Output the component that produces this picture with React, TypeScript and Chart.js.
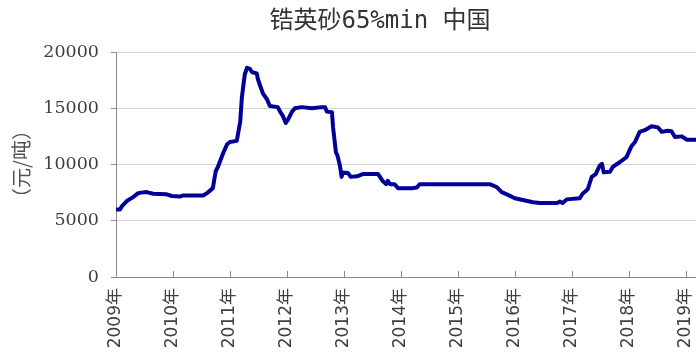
import React, { useEffect, useRef } from "react";
import { Chart, registerables } from "chart.js";

Chart.register(...registerables);

const titleText = "锆英砂65%min 中国";
const yAxisTitle = "（元/吨）";
const yearTicks = [2009, 2010, 2011, 2012, 2013, 2014, 2015, 2016, 2017, 2018, 2019];
const yearSuffix = "年";

// decimal year of each observation
const dates = [
  2009.0, 2009.07, 2009.105, 2009.19, 2009.3, 2009.39, 2009.44, 2009.54, 2009.65, 2009.89,
  2009.98, 2010.12, 2010.18, 2010.53, 2010.61, 2010.7, 2010.75, 2010.79, 2010.88, 2010.95,
  2011.0, 2011.12, 2011.18, 2011.21, 2011.26, 2011.3, 2011.35, 2011.39, 2011.47, 2011.49,
  2011.53, 2011.58, 2011.65, 2011.7, 2011.84, 2011.88, 2011.93, 2011.98, 2012.02, 2012.09,
  2012.14, 2012.26, 2012.44, 2012.61, 2012.67, 2012.7, 2012.79, 2012.81, 2012.86, 2012.89,
  2012.93, 2012.96, 2012.98, 2013.07, 2013.12, 2013.23, 2013.33, 2013.6, 2013.68, 2013.74,
  2013.77, 2013.81, 2013.89, 2013.95, 2014.21, 2014.28, 2014.33, 2015.56, 2015.68, 2015.77,
  2015.88, 2016.0, 2016.14, 2016.32, 2016.44, 2016.74, 2016.79, 2016.84, 2016.91, 2017.14,
  2017.19, 2017.28, 2017.35, 2017.42, 2017.49, 2017.53, 2017.56, 2017.67, 2017.72, 2017.84,
  2017.96, 2018.05, 2018.11, 2018.19, 2018.28, 2018.4, 2018.51, 2018.58, 2018.68, 2018.75,
  2018.81, 2018.93, 2019.02, 2019.18,
];

// 元/吨
const prices = [
  6000, 6000, 6300, 6750, 7100, 7450, 7500, 7550, 7400, 7350,
  7200, 7150, 7250, 7250, 7500, 7900, 9400, 9800, 11000, 11800,
  12000, 12100, 13800, 16000, 18000, 18600, 18500, 18200, 18100, 17600,
  17000, 16300, 15800, 15200, 15100, 14700, 14300, 13700, 14000, 14700,
  15000, 15100, 15000, 15100, 15100, 14700, 14650, 13300, 11100, 10750,
  9900, 8900, 9300, 9250, 8900, 8950, 9150, 9150, 8550, 8250,
  8550, 8250, 8250, 7900, 7900, 7950, 8250, 8250, 8000, 7550,
  7300, 7000, 6850, 6650, 6580, 6580, 6700, 6580, 6900, 7000,
  7400, 7800, 8900, 9150, 9900, 10050, 9300, 9350, 9780, 10200,
  10650, 11650, 12000, 12900, 13050, 13400, 13300, 12900, 13000, 12950,
  12450, 12500, 12200, 12200,
];

const yMin = 0;
const yMax = 20000;
const yStep = 5000;
const xMin = 2009;
const xMax = 2019.18;

export default function App() {
  const ref = useRef<HTMLCanvasElement>(null);

  useEffect(() => {
    document.body.style.margin = "0";
    const canvas = ref.current;
    if (!canvas) return;

    const decorPlugin = {
      id: "decor",
      afterDraw(chart: any) {
        const ctx = chart.ctx;
        const area = chart.chartArea;
        const xs = chart.scales.x;
        ctx.save();
        // inward x tick marks
        ctx.strokeStyle = "#8a8a8a";
        ctx.lineWidth = 1;
        yearTicks.forEach((yr) => {
          const px = Math.round(xs.getPixelForValue(yr)) + 0.5;
          ctx.beginPath();
          ctx.moveTo(px, area.bottom);
          ctx.lineTo(px, area.bottom - 6);
          ctx.stroke();
        });
        // title
        ctx.fillStyle = "#333333";
        ctx.font = "24px 'DejaVu Sans Mono', 'Noto Sans CJK SC'";
        ctx.textAlign = "center";
        ctx.textBaseline = "middle";
        ctx.fillText(titleText, 380, 22);
        // y axis title
        ctx.translate(21, 164);
        ctx.rotate(-Math.PI / 2);
        ctx.font = "20px 'Noto Sans CJK SC'";
        ctx.fillStyle = "#505050";
        ctx.fillText(yAxisTitle, 0, 0);
        ctx.restore();
      },
    };

    const chart = new Chart(canvas, {
      type: "line",
      data: {
        datasets: [
          {
            data: dates.map((d, i) => ({ x: d, y: prices[i] })),
            borderColor: "#000099",
            borderWidth: 4,
            pointRadius: 0,
            tension: 0,
            borderJoinStyle: "round",
            borderCapStyle: "round",
            fill: false,
          },
        ],
      },
      options: {
        animation: false,
        responsive: false,
        devicePixelRatio: 1,
        layout: { padding: { top: 52, left: 0, right: 0, bottom: 0 } },
        plugins: {
          legend: { display: false },
          title: { display: false },
          tooltip: { enabled: false },
        },
        scales: {
          x: {
            type: "linear",
            min: xMin,
            max: xMax,
            afterBuildTicks: (scale: any) => {
              scale.ticks = yearTicks.map((v) => ({ value: v }));
            },
            afterFit: (scale: any) => {
              scale.height = 81;
              scale.paddingLeft = 0;
              scale.paddingRight = 0;
            },
            grid: { display: false, drawTicks: false },
            border: { display: true, color: "#8a8a8a", width: 1 },
            ticks: {
              minRotation: 90,
              maxRotation: 90,
              padding: 11,
              autoSkip: false,
              color: "#404040",
              font: { family: "'DejaVu Sans', 'Noto Sans CJK SC'", size: 17 },
              callback: (v: any) => `${v}${yearSuffix}`,
            },
          },
          y: {
            min: yMin,
            max: yMax,
            afterFit: (scale: any) => {
              scale.width = 116;
              scale.paddingTop = 0;
              scale.paddingBottom = 0;
            },
            grid: {
              color: "#d4d4d4",
              lineWidth: 1,
              drawTicks: true,
              tickLength: 5,
              tickColor: "#8a8a8a",
            },
            border: { display: true, color: "#8a8a8a", width: 1 },
            ticks: {
              stepSize: yStep,
              padding: 12,
              color: "#404040",
              font: { family: "'DejaVu Serif'", size: 17.5 },
              callback: (v: any) => `${v}`,
            },
          },
        },
      },
      plugins: [decorPlugin],
    });

    return () => chart.destroy();
  }, []);

  return (
    <div style={{ position: "absolute", left: 0, top: 0, width: 696, height: 358, background: "#fff" }}>
      <canvas ref={ref} width={696} height={358} style={{ width: 696, height: 358, display: "block" }} />
    </div>
  );
}
